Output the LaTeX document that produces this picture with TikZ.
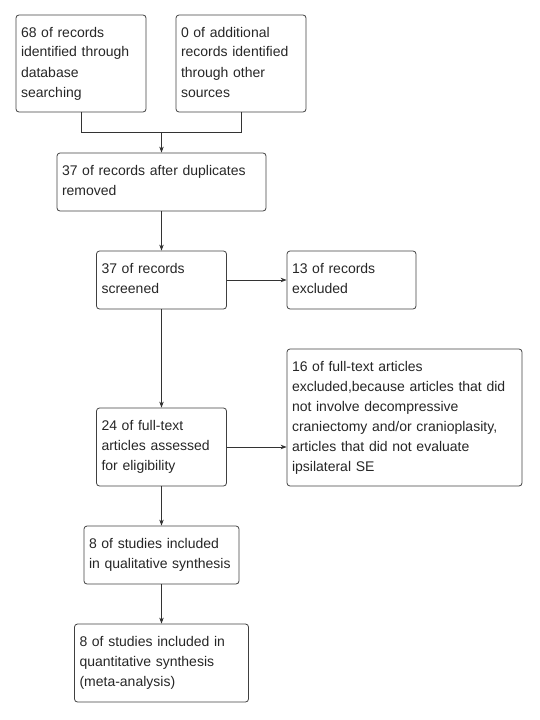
\documentclass[tikz,border=0pt]{standalone}
\usepackage{fontspec}
\setmainfont{Liberation Sans}
\usetikzlibrary{arrows.meta,calc,positioning}

\begin{document}
\begin{tikzpicture}[
    x=1pt, y=-1pt,
    >={Stealth[length=6pt,width=4.5pt]},
    font=\fontsize{14}{20}\selectfont,
    line/.style={draw=black!80, line width=0.8pt},
    arr/.style={->, draw=black!80, line width=0.8pt},
    flowbox/.style={draw=black!75, line width=0.8pt, rounded corners=3pt,
                    align=left, inner xsep=5pt, inner ysep=0pt,
                    text height=22pt, text=black!85}
]
\useasboundingbox (0,0) rectangle (540,720);

% ---- column x-positions ----
\def\cM{161.5}
\def\cR{351.5}

% ---- row y-positions ----
\def\rScr{280}
\def\rFull{447}

% ===== IDENTIFICATION =====
\node[flowbox, text width=120pt, text depth=75pt] (ident) at (81,63.5)
    {68 of records\\identified through\\database\\searching};
\node[flowbox, text width=120pt, text depth=75pt] (other) at (241,63.5)
    {0 of additional\\records identified\\through other\\sources};

\node[flowbox, text width=199pt, text depth=36pt] (dup) at (\cM,182)
    {37 of records after duplicates\\removed};

% merge of both sources
\path (ident.south) ++(0,20) coordinate (jl);
\coordinate (join) at (jl -| dup.north);
\draw[line] (ident.south) -- (jl) -| (other.south);
\draw[arr] (join) -- (dup.north);

% ===== SCREENING =====
\node[flowbox, text width=120pt, text depth=36pt] (screen) at (\cM,\rScr)
    {37 of records\\screened};
\node[flowbox, text width=119pt, text depth=36pt] (excl) at (\cR,\rScr)
    {13 of records\\excluded};

\draw[arr] (dup.south) -- (screen.north);
\draw[arr] (screen.east) -- (excl.west);

% ===== ELIGIBILITY =====
\node[flowbox, text width=120pt, text depth=56pt] (full) at (\cM,\rFull)
    {24 of full-text\\articles assessed\\for eligibility};
\node[flowbox, text width=225pt, text depth=115pt] (fullex) at (404.5,417.5)
    {16 of full-text articles\\excluded,because articles that did\\not involve decompressive\\craniectomy and/or cranioplasity,\\articles that did not evaluate\\ipsilateral SE};

\draw[arr] (screen.south) -- (full.north);
\draw[arr] (full.east) -- (full.east -| fullex.west);

% ===== INCLUDED =====
\node[flowbox, text width=145pt, text depth=36pt] (qual) at (\cM,555)
    {8 of studies included\\in qualitative synthesis};
\node[flowbox, text width=164pt, text depth=56pt] (quant) at (\cM,663)
    {8 of studies included in\\quantitative synthesis\\(meta-analysis)};

\draw[arr] (full.south) -- (qual.north);
\draw[arr] (qual.south) -- (quant.north);

\end{tikzpicture}
\end{document}
